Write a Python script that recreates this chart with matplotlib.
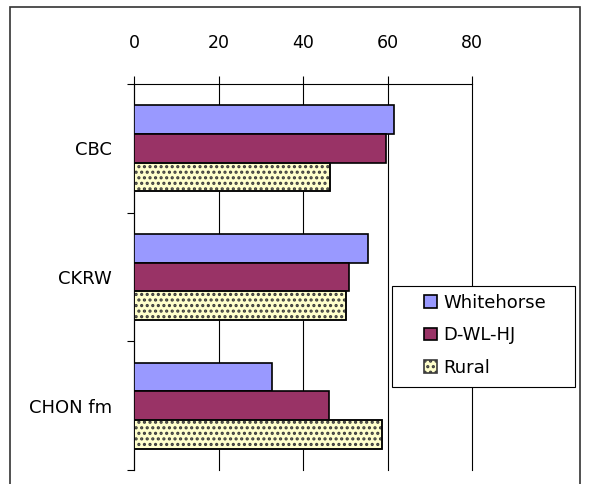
import numpy as np
import matplotlib.pyplot as plt
from matplotlib.patches import Rectangle

# Datos
categorias = ['CBC', 'CKRW', 'CHON fm']
series = ['Whitehorse', 'D-WL-HJ', 'Rural']
whitehorse = [61.5, 55.4, 32.7]
dwlhj = [59.6, 50.9, 46.1]
rural = [46.4, 50.2, 58.6]
ticks_x = [0, 20, 40, 60, 80]

colores = ['#9999FF', '#993366', '#FFFFCC']

plt.rcParams['hatch.linewidth'] = 1.5

fig = plt.figure(figsize=(5.89, 4.84), dpi=100)
ax = fig.add_axes([134 / 589, 1 - 470 / 484, (472 - 134) / 589, (470 - 84) / 484])

y = np.arange(len(categorias))
h = 0.222
valores = [whitehorse, dwlhj, rural]
for i, (vals, c) in enumerate(zip(valores, colores)):
    barras = ax.barh(y + (i - 1) * h, vals, height=h, color=c, edgecolor='black',
                     linewidth=1.2, label=series[i], zorder=3)
    if i == 2:
        # patrón de puntos en Rural
        for p in barras:
            p.set_edgecolor('#3a3a3a')
            p.set_hatch('...')
            ax.add_patch(Rectangle(p.get_xy(), p.get_width(), p.get_height(),
                                   fill=False, edgecolor='black', linewidth=1.2, zorder=4))

ax.set_xlim(0, 80)
ax.set_ylim(len(categorias) - 0.5, -0.5)
ax.xaxis.tick_top()
ax.set_xticks(ticks_x)
ax.tick_params(axis='x', length=6, width=0.8, pad=17, labelsize=12.5, color='black')
ax.grid(axis='x', color='black', linewidth=0.8, zorder=1)
for gl in ax.get_xgridlines():
    gl.set_clip_on(False)

ax.set_yticks(y)
ax.set_yticklabels(categorias, fontsize=13)
ax.set_yticks(np.arange(len(categorias) + 1) - 0.5, minor=True)
ax.tick_params(axis='y', which='major', length=0, pad=16)
ax.tick_params(axis='y', which='minor', length=5, width=0.8)

for s in ['right', 'bottom']:
    ax.spines[s].set_visible(False)
ax.spines['left'].set_linewidth(0.8)
ax.spines['top'].set_linewidth(0.8)

# caja de la leyenda
caja = Rectangle((392 / 589, 1 - 387 / 484), (575 - 392) / 589, (387 - 286) / 484,
                 transform=fig.transFigure, facecolor='white', edgecolor='black',
                 linewidth=0.8, zorder=4)
fig.patches.append(caja)

leg = fig.legend(*ax.get_legend_handles_labels(), loc='upper left',
                 bbox_to_anchor=(424 / 589, 1 - 294 / 484), fontsize=13,
                 frameon=False, handlelength=0.7, handleheight=0.7,
                 labelspacing=0.8, borderpad=0, handletextpad=0.35,
                 borderaxespad=0)
leg.set_zorder(5)

# borde del gráfico
fig.patches.append(Rectangle((10 / 589, -0.1), (580 - 10) / 589, 1.1 - 7 / 484,
                             transform=fig.transFigure, fill=False,
                             edgecolor='#333333', linewidth=1.2))

fig.savefig('out.png', dpi=100)
